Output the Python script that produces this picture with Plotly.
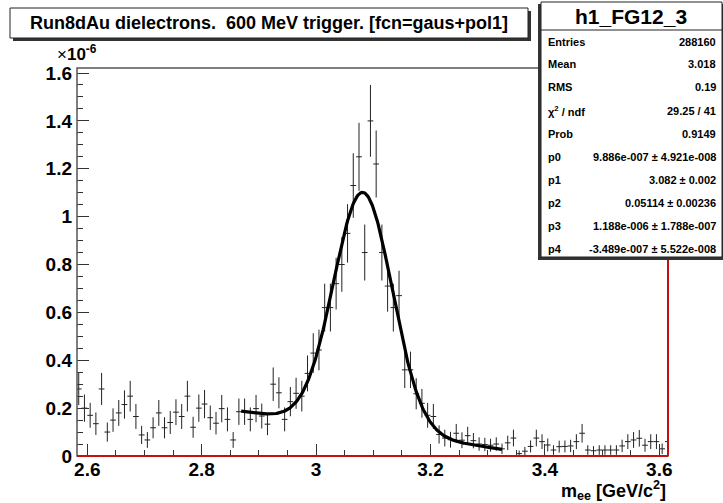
import numpy as np
import plotly.graph_objects as go

# ---------------- data (histogram h1_FG12_3, values in units of 1e-6) ----------------
bin_low = 2.58
bin_width = 0.01
counts = [0.28, 0.20, 0.17, 0.135, 0.28, 0.10, 0.15, 0.18, 0.215, 0.25,
          0.165, 0.088, 0.067, 0.118, 0.18, 0.118, 0.14, 0.183, 0.165, 0.25,
          0.12, 0.20, 0.217, 0.16, 0.137, 0.198, 0.153, 0.067, 0.185, 0.185,
          0.153, 0.198, 0.167, 0.133, 0.30, 0.264, 0.153, 0.227, 0.262, 0.25,
          0.345, 0.43, 0.443, 0.62, 0.62, 0.72, 0.80, 0.93, 1.13, 1.25,
          0.85, 1.40, 1.22, 0.85, 0.71, 0.62, 0.67, 0.36, 0.36, 0.26,
          0.22, 0.17, 0.165, 0.09, 0.075, 0.068, 0.095, 0.066, 0.085, 0.064,
          0.05, 0.048, 0.045, 0.05, 0.03, 0.055, 0.075, 0.01, 0.02, 0.04,
          0.075, 0.06, 0.046, 0.025, 0.039, 0.04, 0.042, 0.06, 0.095, 0.025,
          0.022, 0.025, 0.025, 0.025, 0.025, 0.042, 0.06, 0.067, 0.074, 0.045,
          0.06, 0.06, 0.03, 0.06]
errors = [0.067, 0.057, 0.052, 0.047, 0.067, 0.040, 0.049, 0.054, 0.059, 0.064,
          0.052, 0.038, 0.033, 0.044, 0.054, 0.044, 0.048, 0.054, 0.052, 0.064,
          0.044, 0.057, 0.059, 0.051, 0.047, 0.057, 0.050, 0.033, 0.055, 0.055,
          0.050, 0.057, 0.052, 0.046, 0.070, 0.065, 0.050, 0.061, 0.065, 0.064,
          0.075, 0.083, 0.085, 0.100, 0.100, 0.108, 0.114, 0.122, 0.135, 0.142,
          0.117, 0.150, 0.140, 0.117, 0.107, 0.100, 0.104, 0.076, 0.076, 0.065,
          0.060, 0.052, 0.052, 0.038, 0.035, 0.033, 0.039, 0.033, 0.037, 0.032,
          0.028, 0.028, 0.027, 0.028, 0.022, 0.030, 0.035, 0.013, 0.018, 0.025,
          0.035, 0.031, 0.027, 0.020, 0.025, 0.025, 0.026, 0.031, 0.039, 0.020,
          0.019, 0.020, 0.020, 0.020, 0.020, 0.026, 0.031, 0.033, 0.035, 0.027,
          0.031, 0.031, 0.022, 0.031]

# fit gaus+pol1 : p0*exp(-0.5*((x-p1)/p2)^2) + p3 + p4*x   (p0,p3,p4 in 1e-6)
fit_params = [0.9886, 3.082, 0.05114, 1.188, -0.3489]
fit_range = [2.869, 3.325]

x_tick_vals = [2.6, 2.8, 3.0, 3.2, 3.4, 3.6]
x_tick_text = ["2.6", "2.8", "3", "3.2", "3.4", "3.6"]
y_tick_vals = [0, 0.2, 0.4, 0.6, 0.8, 1.0, 1.2, 1.4, 1.6]
y_tick_text = ["0", "0.2", "0.4", "0.6", "0.8", "1", "1.2", "1.4", "1.6"]

title_text = "Run8dAu dielectrons.  600 MeV trigger. [fcn=gaus+pol1]"
stats_title = "h1_FG12_3"
stat_labels = ["Entries", "Mean", "RMS", "\u03c7<sup>2</sup> / ndf", "Prob",
               "p0", "p1", "p2", "p3", "p4"]
stat_values = ["288160", "3.018", "0.19", "29.25 / 41", "0.9149",
               "9.886e-007 \u00b1 4.921e-008", "3.082 \u00b1 0.002",
               "0.05114 \u00b1 0.00236", "1.188e-006 \u00b1 1.788e-007",
               "-3.489e-007 \u00b1 5.522e-008"]

# ---------------- derived ----------------
centers = [bin_low + bin_width * (i + 0.5) for i in range(len(counts))]
half_w = [bin_width / 2] * len(counts)
p0, p1, p2, p3, p4 = fit_params
xf = np.linspace(fit_range[0], fit_range[1], 300)
yf = p0 * np.exp(-0.5 * ((xf - p1) / p2) ** 2) + p3 + p4 * xf

# ---------------- geometry (pixels) ----------------
W, H = 723, 503
L, R, T, B = 77, 668, 68, 456
PW, PH = R - L, B - T

def px(x):
    return (x - L) / PW

def py(y):
    return (B - y) / PH

FONT = "Liberation Sans"

fig = go.Figure()
fig.add_trace(go.Scatter(
    x=centers, y=counts, mode="markers",
    marker=dict(size=1, color="rgba(0,0,0,0)"),
    error_y=dict(type="data", array=errors, visible=True, thickness=1, width=0, color="#222"),
    error_x=dict(type="data", array=half_w, visible=True, thickness=1, width=0, color="#222"),
    showlegend=False, hoverinfo="skip"))
fig.add_trace(go.Scatter(
    x=xf, y=yf, mode="lines", line=dict(color="black", width=3.2),
    showlegend=False, hoverinfo="skip"))

axis_common = dict(
    showgrid=False, zeroline=False, showline=False,
    ticks="inside", ticklen=12, tickwidth=1, tickcolor="#333",
    tickfont=dict(family=FONT, size=19, color="black", weight="bold"),
)
fig.update_xaxes(range=[2.582, 3.6152], tickvals=x_tick_vals, ticktext=x_tick_text,
                 minor=dict(ticks="inside", ticklen=6, dtick=0.05, tick0=2.6, tickcolor="#333"),
                 **axis_common)
fig.update_yaxes(range=[0, 1.621], tickvals=y_tick_vals, ticktext=y_tick_text,
                 ticklabelstandoff=4,
                 minor=dict(ticks="inside", ticklen=6, dtick=0.05, tick0=0, tickcolor="#333"),
                 **axis_common)

shapes = []
# frame
shapes.append(dict(type="rect", xref="paper", yref="paper", x0=0, x1=1, y0=0, y1=1,
                   line=dict(color="#555", width=1.5), fillcolor="rgba(0,0,0,0)"))
shapes.append(dict(type="line", xref="paper", yref="paper", x0=0, x1=1, y0=0, y1=0,
                   line=dict(color="#c41010", width=2)))
shapes.append(dict(type="line", xref="paper", yref="paper", x0=1, x1=1, y0=0, y1=1,
                   line=dict(color="#c41010", width=2)))
# title box with shadow
shapes.append(dict(type="rect", xref="paper", yref="paper", x0=px(13), x1=px(531), y0=py(11), y1=py(41),
                   line=dict(width=0), fillcolor="#333"))
shapes.append(dict(type="rect", xref="paper", yref="paper", x0=px(10), x1=px(528), y0=py(8), y1=py(38),
                   line=dict(color="#222", width=1), fillcolor="white"))
# stats box with shadow
shapes.append(dict(type="rect", xref="paper", yref="paper", x0=px(538), x1=px(723), y0=py(4), y1=py(260),
                   line=dict(width=0), fillcolor="#333"))
shapes.append(dict(type="rect", xref="paper", yref="paper", x0=px(541), x1=px(722), y0=py(2), y1=py(257),
                   line=dict(color="#222", width=1), fillcolor="white"))
shapes.append(dict(type="line", xref="paper", yref="paper", x0=px(541), x1=px(722), y0=py(30), y1=py(30),
                   line=dict(color="#222", width=1)))

ann = []
ann.append(dict(x=px(269), y=py(23), xref="paper", yref="paper", text="<b>" + title_text + "</b>",
                showarrow=False, xanchor="center", yanchor="middle",
                font=dict(family=FONT, size=18, color="black")))
ann.append(dict(x=px(631), y=py(16), xref="paper", yref="paper", text="<b>" + stats_title + "</b>",
                showarrow=False, xanchor="center", yanchor="middle",
                font=dict(family=FONT, size=21, color="black")))
row_y = [42, 64, 87, 111, 134, 157, 180, 203, 226, 249]
for lab, val, yy in zip(stat_labels, stat_values, row_y):
    ann.append(dict(x=px(546), y=py(yy), xref="paper", yref="paper", text="<b>" + lab + "</b>",
                    showarrow=False, xanchor="left", yanchor="middle",
                    font=dict(family=FONT, size=11, color="black")))
    ann.append(dict(x=px(718), y=py(yy), xref="paper", yref="paper", text="<b>" + val + "</b>",
                    showarrow=False, xanchor="right", yanchor="middle",
                    font=dict(family=FONT, size=11, color="black")))
# exponent label
ann.append(dict(x=px(55), y=py(66), xref="paper", yref="paper",
                text="\u00d7<b>10<sup>-6</sup></b>", showarrow=False, xanchor="left", yanchor="bottom",
                font=dict(family=FONT, size=17, color="black")))
# x-axis title
ann.append(dict(x=px(668), y=py(491), xref="paper", yref="paper",
                text="<b>m<sub>ee</sub> [GeV/c<sup>2</sup>]</b>", showarrow=False,
                xanchor="right", yanchor="middle",
                font=dict(family=FONT, size=18, color="black")))

fig.update_layout(
    width=W, height=H,
    margin=dict(l=L, r=W - R, t=T, b=H - B, pad=0),
    paper_bgcolor="white", plot_bgcolor="white",
    shapes=shapes, annotations=ann, showlegend=False,
)
fig.write_html("out.html", config={"displayModeBar": False},
               post_script="document.body.style.margin='0';document.body.style.overflow='hidden';")
